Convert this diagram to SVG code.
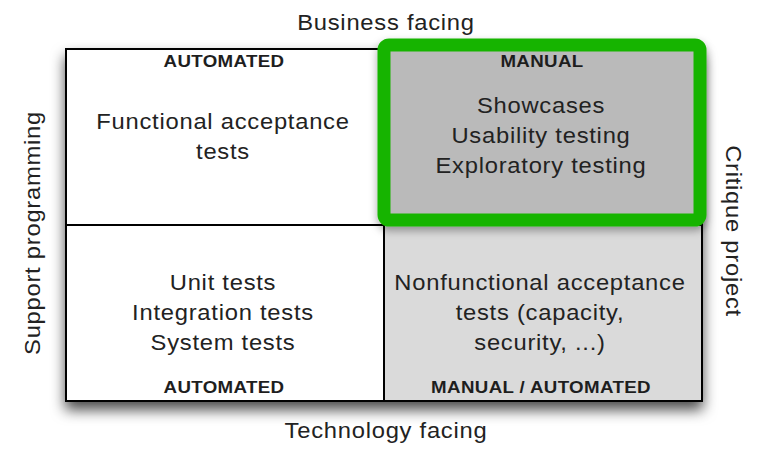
<svg xmlns="http://www.w3.org/2000/svg" width="768" height="453" viewBox="0 0 768 453">
  <defs>
    <filter id="shadow" x="-10%" y="-10%" width="120%" height="140%">
      <feDropShadow dx="0" dy="8" stdDeviation="7" flood-color="#000" flood-opacity="0.7"/>
    </filter>
    <filter id="soft" x="-10%" y="-10%" width="120%" height="130%">
      <feDropShadow dx="0" dy="4" stdDeviation="4" flood-color="#000" flood-opacity="0.35"/>
    </filter>
  </defs>
  <style>
    .lbl { font-family: "Liberation Sans", Arial, Helvetica, sans-serif; font-size: 22px; letter-spacing: 0.7px; fill: #222; text-anchor: middle; }
    .tag { font-family: "Liberation Sans", Arial, Helvetica, sans-serif; font-size: 16px; letter-spacing: 0.3px; font-weight: bold; fill: #1e1e1e; text-anchor: middle; }
    .divider { stroke: #000; stroke-width: 2; fill: none; }
  </style>

  <rect width="768" height="453" fill="#fff"/>

  <!-- quadrant board with soft drop shadow -->
  <g id="board">
    <rect x="66" y="49" width="636" height="352" fill="#fff" stroke="#000" stroke-width="2" filter="url(#shadow)"/>
    <rect x="384" y="225" width="318" height="176" fill="#dadada"/>
    <rect x="66" y="49" width="636" height="352" fill="none" stroke="#000" stroke-width="2"/>
  </g>

  <g id="connectors">
    <line class="divider" x1="66" y1="225" x2="702" y2="225"/>
    <line class="divider" x1="384" y1="49" x2="384" y2="401"/>
  </g>

  <!-- axis captions (text is set slightly wide) -->
  <g id="axis-top"><text class="lbl" transform="translate(386,30) scale(1.08,1)">Business facing</text></g>
  <g id="axis-bottom"><text class="lbl" transform="translate(386,438) scale(1.08,1)">Technology facing</text></g>
  <g id="axis-left"><text class="lbl" transform="translate(40,233) rotate(-90) scale(1.08,1)">Support programming</text></g>
  <g id="axis-right"><text class="lbl" transform="translate(726,231) rotate(90) scale(1.08,1)">Critique project</text></g>

  <!-- Q1: business facing / support programming -->
  <g id="q-top-left">
    <text class="tag" transform="translate(224,67) scale(1.17,1)">AUTOMATED</text>
    <text class="lbl" transform="translate(223,129) scale(1.08,1)">Functional acceptance</text>
    <text class="lbl" transform="translate(223,159) scale(1.08,1)">tests</text>
  </g>

  <!-- Q2: business facing / critique project (highlighted) -->
  <g id="q-top-right">
    <rect x="384" y="45" width="316" height="175" rx="5" fill="#bababa" stroke="#19b400" stroke-width="13" filter="url(#soft)"/>
    <text class="tag" transform="translate(542,67) scale(1.17,1)">MANUAL</text>
    <text class="lbl" transform="translate(541,113) scale(1.08,1)">Showcases</text>
    <text class="lbl" transform="translate(541,143) scale(1.08,1)">Usability testing</text>
    <text class="lbl" transform="translate(541,173) scale(1.08,1)">Exploratory testing</text>
  </g>

  <!-- Q3: technology facing / support programming -->
  <g id="q-bottom-left">
    <text class="lbl" transform="translate(223,290) scale(1.08,1)">Unit tests</text>
    <text class="lbl" transform="translate(223,320) scale(1.08,1)">Integration tests</text>
    <text class="lbl" transform="translate(223,350) scale(1.08,1)">System tests</text>
    <text class="tag" transform="translate(224,393) scale(1.17,1)">AUTOMATED</text>
  </g>

  <!-- Q4: technology facing / critique project -->
  <g id="q-bottom-right">
    <text class="lbl" transform="translate(540,290) scale(1.08,1)">Nonfunctional acceptance</text>
    <text class="lbl" transform="translate(540,320) scale(1.08,1)">tests (capacity,</text>
    <text class="lbl" transform="translate(540,350) scale(1.08,1)">security, ...)</text>
    <text class="tag" transform="translate(541,393) scale(1.17,1)">MANUAL / AUTOMATED</text>
  </g>
</svg>
